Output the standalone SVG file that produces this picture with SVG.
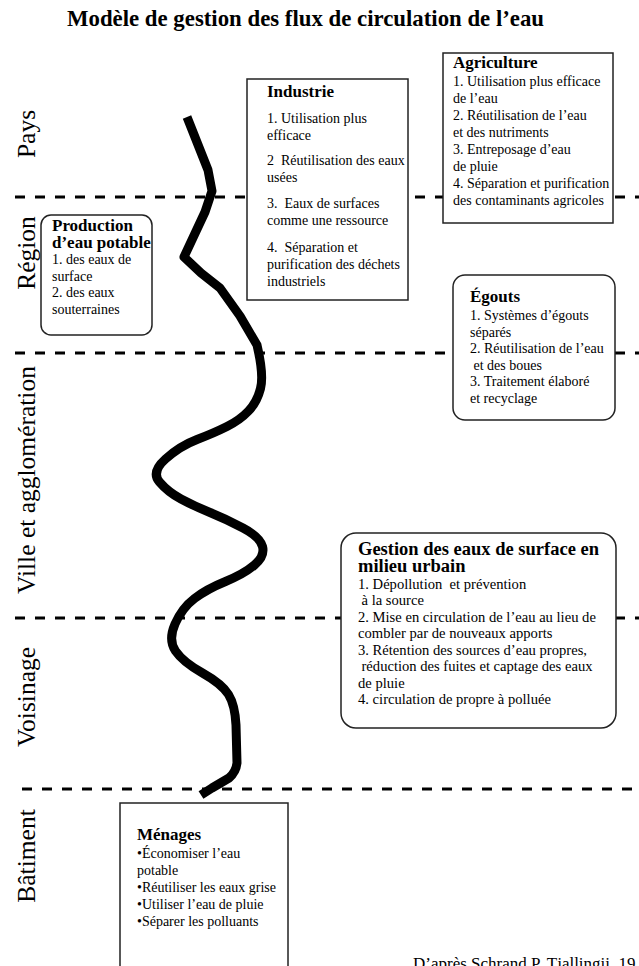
<svg xmlns="http://www.w3.org/2000/svg" width="639" height="966" viewBox="0 0 639 966">
<style>
text{font-family:"Liberation Serif","Times New Roman",serif;fill:#000}
.t{font-weight:bold;font-size:17px}
.b{font-size:14px}
.side{font-size:25.5px}
.box{fill:#fff;stroke:#222;stroke-width:1.5}
.dash{stroke:#000;stroke-width:3;stroke-dasharray:10 10;fill:none}
.river{fill:none;stroke:#000;stroke-width:9;stroke-linejoin:round;stroke-linecap:butt}
</style>
<rect width="639" height="966" fill="#fff"/>
<text x="67" y="26" style="font-weight:bold;font-size:22.8px">Modèle de gestion des flux de circulation de l’eau</text>

<g id="levels">
<line class="dash" x1="15" y1="197" x2="639" y2="197"/>
<line class="dash" x1="15" y1="353" x2="639" y2="353"/>
<line class="dash" x1="15" y1="618" x2="639" y2="618"/>
<line class="dash" x1="22" y1="789" x2="639" y2="789"/>
</g>

<g id="side-labels">
<text class="side" transform="translate(35,134) rotate(-90)" text-anchor="middle">Pays</text>
<text class="side" transform="translate(35,253) rotate(-90)" text-anchor="middle">Région</text>
<text class="side" transform="translate(35,480) rotate(-90)" text-anchor="middle">Ville et agglomération</text>
<text class="side" transform="translate(35,697) rotate(-90)" text-anchor="middle">Voisinage</text>
<text class="side" transform="translate(35,856) rotate(-90)" text-anchor="middle">Bâtiment</text>
</g>

<g id="connectors">
<path class="river" d="M187,117 L208,170 L212,191 L205,212 L184,257 L201,273 L220,288 L240,316 L257,345 Q264,375 260.5,388.5 Q257,402 248.5,411 Q240,420 227,426.5 Q214,433 197,439.5 Q180,446 165.5,459 Q151,472 159.5,482 Q168,492 181,499 Q194,506 210,512.5 Q226,519 243,528 Q260,537 262.5,546.5 Q265,556 254.5,565 Q244,574 225.5,581.5 Q207,589 194.5,598.5 Q182,608 175,624 Q168,640 175.5,651 Q183,662 202.5,673 Q222,684 228.5,694.5 Q235,705 236,725 L237,763 Q236,772 229,778 L212,788 L201,795"/>
</g>

<g id="industrie">
<rect class="box" x="247" y="79" width="161" height="221"/>
<text class="t" x="267" y="97">Industrie</text>
<text class="b" x="267" y="123">1. Utilisation plus</text>
<text class="b" x="267" y="140">efficace</text>
<text class="b" x="267" y="165" xml:space="preserve">2  Réutilisation des eaux</text>
<text class="b" x="267" y="182">usées</text>
<text class="b" x="267" y="208" xml:space="preserve">3.  Eaux de surfaces</text>
<text class="b" x="267" y="225">comme une ressource</text>
<text class="b" x="267" y="252" xml:space="preserve">4.  Séparation et</text>
<text class="b" x="267" y="269">purification des déchets</text>
<text class="b" x="267" y="286">industriels</text>
</g>

<g id="agriculture">
<rect class="box" x="443" y="53" width="170" height="170"/>
<text class="t" x="453" y="68">Agriculture</text>
<text class="b" x="453" y="86">1. Utilisation plus efficace</text>
<text class="b" x="453" y="103">de l’eau</text>
<text class="b" x="453" y="120">2. Réutilisation de l’eau</text>
<text class="b" x="453" y="137">et des nutriments</text>
<text class="b" x="453" y="154">3. Entreposage d’eau</text>
<text class="b" x="453" y="171">de pluie</text>
<text class="b" x="453" y="188">4. Séparation et purification</text>
<text class="b" x="453" y="205">des contaminants agricoles</text>
</g>

<g id="production">
<rect class="box" x="41" y="215" width="111" height="120" rx="10" ry="10"/>
<text class="t" x="52" y="231">Production</text>
<text class="t" x="52" y="248">d’eau potable</text>
<text class="b" x="52" y="264">1. des eaux de</text>
<text class="b" x="52" y="281">surface</text>
<text class="b" x="52" y="297">2. des eaux</text>
<text class="b" x="52" y="314">souterraines</text>
</g>

<g id="egouts">
<rect class="box" x="453" y="275" width="162" height="145" rx="12" ry="12"/>
<text class="t" x="470" y="302">Égouts</text>
<text class="b" x="470" y="320">1. Systèmes d’égouts</text>
<text class="b" x="470" y="336.5">séparés</text>
<text class="b" x="470" y="353">2. Réutilisation de l’eau</text>
<text class="b" x="473.5" y="369.5">et des boues</text>
<text class="b" x="470" y="386">3. Traitement élaboré</text>
<text class="b" x="470" y="402.5">et recyclage</text>
</g>

<g id="gestion">
<rect class="box" x="341" y="533" width="275" height="195" rx="15" ry="15"/>
<text x="358" y="555" style="font-weight:bold;font-size:18.5px">Gestion des eaux de surface en</text>
<text x="358" y="572" style="font-weight:bold;font-size:18.5px">milieu urbain</text>
<g style="font-size:14.6px">
<text x="358" y="589" xml:space="preserve">1. Dépollution  et prévention</text>
<text x="361.5" y="605">à la source</text>
<text x="358" y="622">2. Mise en circulation de l’eau au lieu de</text>
<text x="358" y="638">combler par de nouveaux apports</text>
<text x="358" y="655">3. Rétention des sources d’eau propres,</text>
<text x="361.5" y="671">réduction des fuites et captage des eaux</text>
<text x="358" y="688">de pluie</text>
<text x="358" y="704">4. circulation de propre à polluée</text>
</g>
</g>

<g id="menages">
<rect class="box" x="120" y="803" width="168" height="200"/>
<text class="t" x="137" y="840">Ménages</text>
<text class="b" x="137" y="858">•Économiser l’eau</text>
<text class="b" x="137" y="875">potable</text>
<text class="b" x="137" y="892">•Réutiliser les eaux grise</text>
<text class="b" x="137" y="909">•Utiliser l’eau de pluie</text>
<text class="b" x="137" y="926">•Séparer les polluants</text>
</g>

<text x="413" y="969" style="font-size:17px">D’après Schrand P. Tjallingii, 19</text>
</svg>
